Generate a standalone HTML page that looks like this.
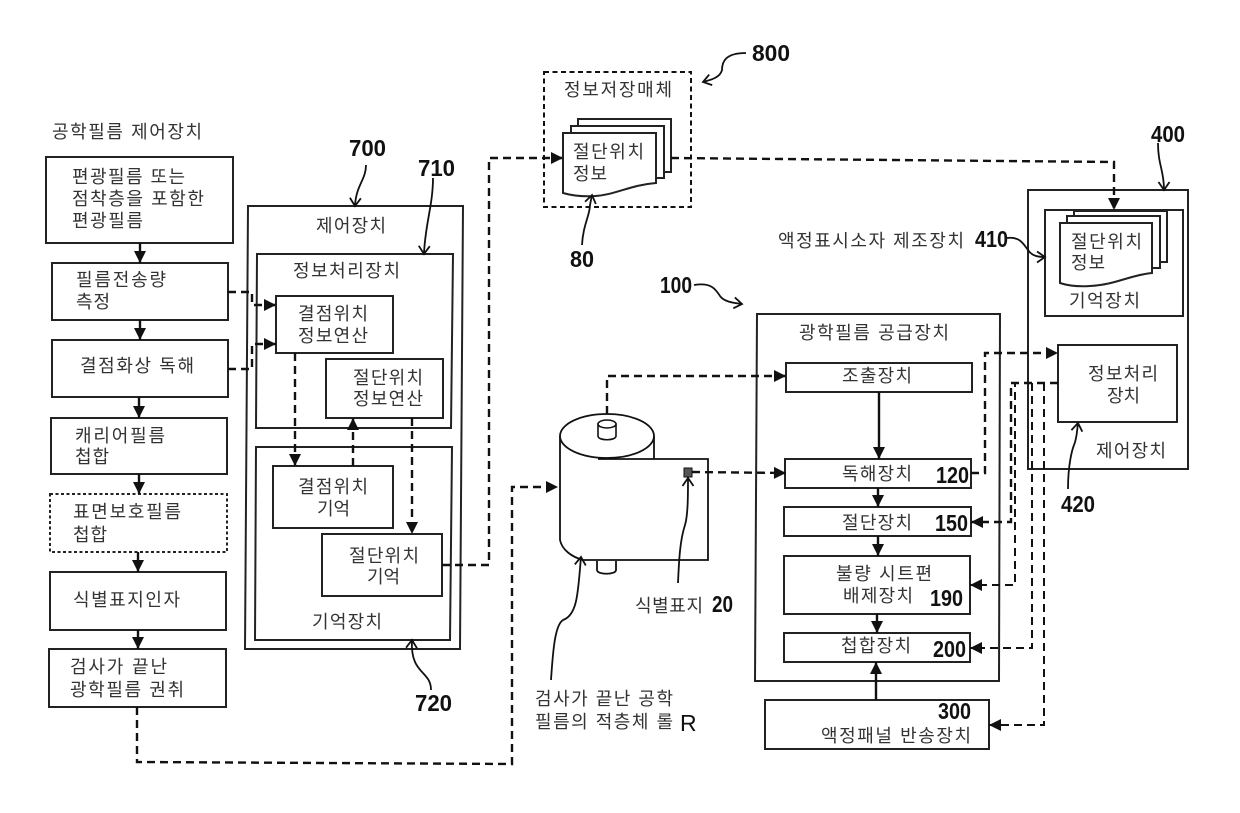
<!DOCTYPE html>
<html lang="ko">
<head>
<meta charset="utf-8">
<title>광학필름 제어장치</title>
<style>
html,body{margin:0;padding:0;background:#fff;}
svg{display:block;}
.k{font-family:"Liberation Sans","Noto Sans CJK KR",sans-serif;font-size:18px;fill:#333;}
.n{font-family:"Liberation Sans",sans-serif;font-size:23px;font-weight:bold;fill:#111;}
.b{fill:#fff;stroke:#222;stroke-width:2;}
.s{fill:none;stroke:#111;stroke-width:2.400;}
.d{fill:none;stroke:#111;stroke-width:2.400;stroke-dasharray:8 5;}
.c{fill:none;stroke:#111;stroke-width:1.800;}
</style>
</head>
<body>
<svg width="1240" height="813" viewBox="0 0 1240 813" xmlns="http://www.w3.org/2000/svg">
<defs>
<marker id="a" markerUnits="userSpaceOnUse" markerWidth="14" markerHeight="14" refX="13" refY="7" orient="auto"><path d="M1,1 L13,7 L1,13 Z" fill="#111"/></marker>
<marker id="o" markerUnits="userSpaceOnUse" markerWidth="14" markerHeight="14" refX="11" refY="7" orient="auto"><path d="M3,1.500 L11,7 L3,12.500" fill="none" stroke="#111" stroke-width="1.800"/></marker>
</defs>
<rect width="1240" height="813" fill="#fff"/>

<!-- left column -->
<rect class="b" x="46" y="157" width="187" height="86"/>
<rect class="b" x="52" y="263" width="176" height="57"/>
<rect class="b" x="52" y="340" width="176" height="57"/>
<rect class="b" x="51" y="418" width="176" height="56"/>
<rect class="b" x="50" y="494" width="177" height="58" stroke-dasharray="3 2.500"/>
<rect class="b" x="50" y="572" width="176" height="58"/>
<rect class="b" x="49" y="649" width="177" height="58"/>
<path class="s" d="M140,243V263" marker-end="url(#a)"/>
<path class="s" d="M140,320V340" marker-end="url(#a)"/>
<path class="s" d="M139,397V418" marker-end="url(#a)"/>
<path class="s" d="M139,474V494" marker-end="url(#a)"/>
<path class="s" d="M138,552V572" marker-end="url(#a)"/>
<path class="s" d="M138,630V649" marker-end="url(#a)"/>

<!-- control device 700 -->
<path class="b" d="M248,206H463L460,649H245Z"/>
<path class="b" d="M257,254H453L451,428H256Z"/>
<path class="b" d="M256,447H452L450,640H255Z"/>
<rect class="b" x="276" y="296" width="117" height="57"/>
<rect class="b" x="326" y="359" width="117" height="59"/>
<rect class="b" x="273" y="466" width="120" height="62"/>
<rect class="b" x="322" y="534" width="120" height="62"/>
<path class="d" d="M228,292H252V305H276" marker-end="url(#a)"/>
<path class="d" d="M228,369H252V344H276" marker-end="url(#a)"/>
<path class="d" d="M295,353V466" marker-end="url(#a)"/>
<path class="d" d="M353,466V418" marker-end="url(#a)"/>
<path class="d" d="M412,418V534" marker-end="url(#a)"/>
<path class="d" d="M442,565H489V158H563" marker-end="url(#a)"/>
<path class="d" d="M137,707V762L512,764V487H558" marker-end="url(#a)"/>

<!-- storage medium 800 -->
<rect x="544" y="72" width="147" height="135" fill="none" stroke="#111" stroke-width="2" stroke-dasharray="5 3.500"/>
<rect class="b" x="578" y="119" width="93" height="53"/>
<rect class="b" x="571" y="126" width="93" height="52"/>
<path class="b" d="M563,133H656V183C630,185 615,195 595,196C580,197 570,195 563,193Z"/>

<!-- device 400 -->
<rect class="b" x="1028" y="190" width="160" height="279"/>
<rect class="b" x="1045" y="210" width="138" height="106"/>
<rect class="b" x="1074" y="211" width="93" height="51"/>
<rect class="b" x="1067" y="216" width="93" height="52"/>
<path class="b" d="M1060,223H1152V273C1130,275 1115,285 1090,286C1075,287 1066,285 1060,283Z"/>
<rect class="b" x="1058" y="345" width="119" height="77"/>
<path class="d" d="M671,158L1114,162V210" marker-end="url(#a)"/>

<!-- device 100 -->
<path class="b" d="M757,314H1000L999,681H755Z"/>
<rect class="b" x="786" y="363" width="186" height="29"/>
<rect class="b" x="785" y="459" width="186" height="29"/>
<rect class="b" x="784" y="507" width="187" height="29"/>
<rect class="b" x="784" y="556" width="186" height="58"/>
<rect class="b" x="784" y="633" width="186" height="29"/>
<rect class="b" x="765" y="700" width="224" height="49"/>
<path class="s" d="M879,392V459" marker-end="url(#a)"/>
<path class="s" d="M878,488V507" marker-end="url(#a)"/>
<path class="s" d="M878,536V556" marker-end="url(#a)"/>
<path class="s" d="M877,614V633" marker-end="url(#a)"/>
<path class="s" d="M876,700V662" marker-end="url(#a)"/>

<!-- dashed links to 420 -->
<path class="d" d="M971,473H985V353H1058" marker-end="url(#a)"/>
<path class="d" d="M1058,383H1011V522H971" marker-end="url(#a)"/>
<path class="d" d="M1058,383H1015V585H970" marker-end="url(#a)" style="stroke-width:2"/>
<path class="d" d="M1032,383V648H970" marker-end="url(#a)" style="stroke-width:2"/>
<path class="d" d="M1044,383V725H989" marker-end="url(#a)" style="stroke-width:2"/>

<!-- roll -->
<path class="c" d="M560,436V540C562,550 572,557 583,560H708V459H598"/>
<path class="c" d="M654,436V459"/>
<ellipse cx="607" cy="436" rx="47" ry="22" fill="#fff" stroke="#111" stroke-width="1.800"/>
<path d="M598,424V436C598,441 616,441 616,436V424Z" fill="#fff" stroke="#111" stroke-width="1.600"/>
<ellipse cx="607" cy="424" rx="9" ry="4" fill="#fff" stroke="#111" stroke-width="1.600"/>
<path class="c" d="M597,561V570C597,575 616,575 616,570V561"/>
<rect x="684" y="468" width="8" height="9" fill="#555" stroke="#111" stroke-width="1"/>
<path class="d" d="M607,414V376H786" marker-end="url(#a)"/>
<path class="d" d="M692,472L786,473" marker-end="url(#a)"/>

<!-- leader arrows -->
<path class="c" d="M366,165C366,180 356,185 355,206" marker-end="url(#o)"/>
<path class="c" d="M433,178C433,205 425,225 424,254" marker-end="url(#o)"/>
<path class="c" d="M431,690C431,670 410,675 412,640" marker-end="url(#o)"/>
<path class="c" d="M551,680C553,650 555,625 563,620C578,615 578,590 581,557" marker-end="url(#o)"/>
<path class="c" d="M678,583C679,560 680,540 685,525C688,515 688,495 688,478" marker-end="url(#o)"/>
<path class="c" d="M1068,489C1068,465 1072,450 1074,445C1077,438 1077,430 1078,423" marker-end="url(#o)"/>
<path class="c" d="M746,53C725,53 722,62 722,70C720,78 710,80 703,82" marker-end="url(#o)"/>
<path class="c" d="M582,245C583,225 590,215 590,205L592,195" marker-end="url(#o)"/>
<path class="c" d="M1007,238C1020,236 1024,245 1028,250C1032,256 1038,257 1045,257" marker-end="url(#o)"/>
<path class="c" d="M1158,143C1158,165 1164,170 1164,190" marker-end="url(#o)"/>
<path class="c" d="M694,285C712,282 716,290 720,296C724,302 735,303 742,304" marker-end="url(#o)"/>

<!-- Korean labels -->
<g class="k">
<text x="52" y="138" textLength="150">공학필름 제어장치</text>
<text x="72" y="183" textLength="113">편광필름 또는</text>
<text x="72" y="205" textLength="132">점착층을 포함한</text>
<text x="72" y="227" textLength="71">편광필름</text>
<text x="76" y="286" textLength="90">필름전송량</text>
<text x="76" y="308" textLength="34">측정</text>
<text x="80" y="372" textLength="114">결점화상 독해</text>
<text x="75" y="442" textLength="90">캐리어필름</text>
<text x="75" y="463" textLength="34">첩합</text>
<text x="73" y="518" textLength="108">표면보호필름</text>
<text x="73" y="541" textLength="34">첩합</text>
<text x="73" y="606" textLength="107">식별표지인자</text>
<text x="70" y="673" textLength="97">검사가 끝난</text>
<text x="70" y="696" textLength="114">광학필름 권취</text>
<text x="316" y="232" textLength="70">제어장치</text>
<text x="293" y="277" textLength="107">정보처리장치</text>
<text x="298" y="320" textLength="70">결점위치</text>
<text x="298" y="342" textLength="70">정보연산</text>
<text x="353" y="384" textLength="70">절단위치</text>
<text x="353" y="405" textLength="70">정보연산</text>
<text x="298" y="493" textLength="70">결점위치</text>
<text x="317" y="515" textLength="33">기억</text>
<text x="349" y="562" textLength="70">절단위치</text>
<text x="367" y="583" textLength="33">기억</text>
<text x="312" y="628" textLength="70">기억장치</text>
<text x="564" y="96" textLength="108">정보저장매체</text>
<text x="573" y="158" textLength="71">절단위치</text>
<text x="573" y="180" textLength="34">정보</text>
<text x="778" y="247" textLength="186">액정표시소자 제조장치</text>
<text x="1071" y="248" textLength="71">절단위치</text>
<text x="1071" y="269" textLength="34">정보</text>
<text x="1069" y="307" textLength="71">기억장치</text>
<text x="799" y="339" textLength="150">광학필름 공급장치</text>
<text x="842" y="382" textLength="70">조출장치</text>
<text x="842" y="480" textLength="70">독해장치</text>
<text x="842" y="529" textLength="70">절단장치</text>
<text x="836" y="580" textLength="96">불량 시트편</text>
<text x="843" y="602" textLength="70">배제장치</text>
<text x="841" y="652" textLength="70">첩합장치</text>
<text x="821" y="742" textLength="150">액정패널 반송장치</text>
<text x="1088" y="380" textLength="70">정보처리</text>
<text x="1107" y="402" textLength="33">장치</text>
<text x="1096" y="457" textLength="70">제어장치</text>
<text x="635" y="612" textLength="68">식별표지</text>
<text x="535" y="705" textLength="138">검사가 끝난 공학</text>
<text x="535" y="728" textLength="138">필름의 적층체 롤</text>
</g>

<!-- reference numerals -->
<g class="n">
<text x="349" y="156" textLength="37" lengthAdjust="spacingAndGlyphs">700</text>
<text x="418" y="176" textLength="37" lengthAdjust="spacingAndGlyphs">710</text>
<text x="415" y="711" textLength="37" lengthAdjust="spacingAndGlyphs">720</text>
<text x="752" y="61" textLength="38" lengthAdjust="spacingAndGlyphs">800</text>
<text x="570" y="267" textLength="24" lengthAdjust="spacingAndGlyphs">80</text>
<text x="975" y="247" textLength="33" lengthAdjust="spacingAndGlyphs">410</text>
<text x="1151" y="142" textLength="34" lengthAdjust="spacingAndGlyphs">400</text>
<text x="660" y="293" textLength="32" lengthAdjust="spacingAndGlyphs">100</text>
<text x="936" y="483" textLength="33" lengthAdjust="spacingAndGlyphs">120</text>
<text x="935" y="531" textLength="33" lengthAdjust="spacingAndGlyphs">150</text>
<text x="930" y="606" textLength="33" lengthAdjust="spacingAndGlyphs">190</text>
<text x="933" y="657" textLength="33" lengthAdjust="spacingAndGlyphs">200</text>
<text x="938" y="719" textLength="33" lengthAdjust="spacingAndGlyphs">300</text>
<text x="1061" y="512" textLength="34" lengthAdjust="spacingAndGlyphs">420</text>
<text x="712" y="612" textLength="21" lengthAdjust="spacingAndGlyphs">20</text>
<text x="680" y="731" style="font-weight:normal">R</text>
</g>
</svg>
</body>
</html>
